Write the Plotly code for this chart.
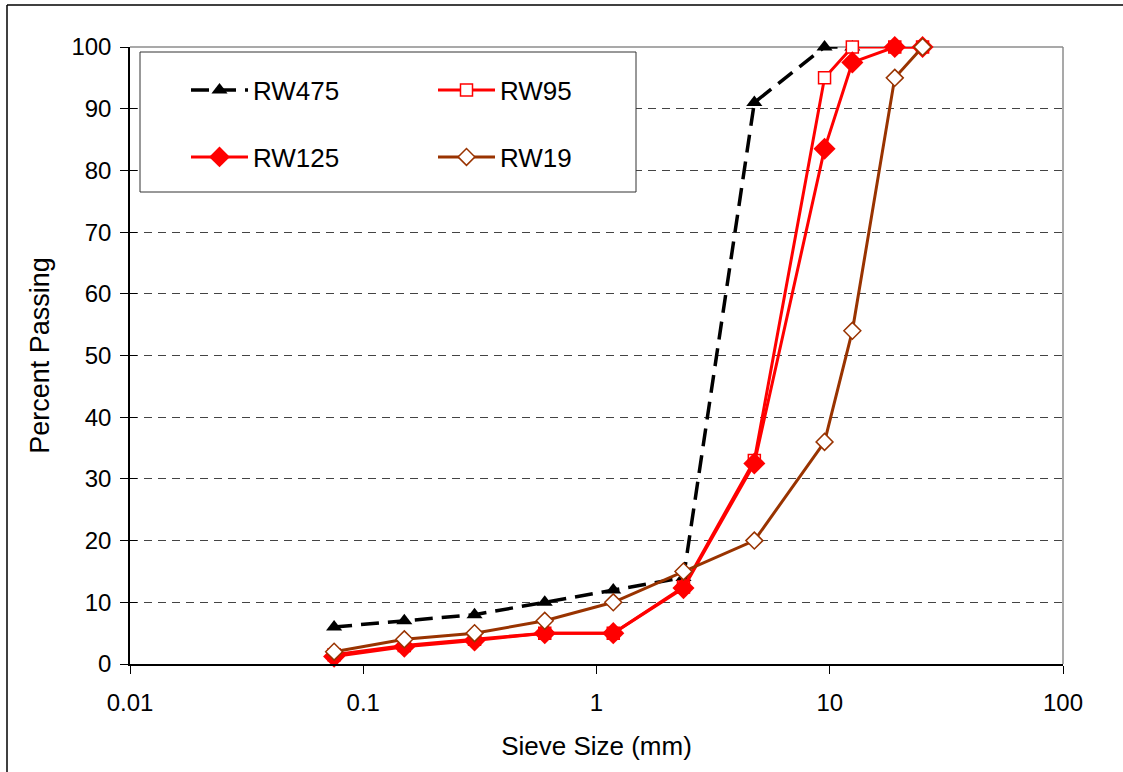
import plotly.graph_objects as go

sieve = [0.075, 0.15, 0.3, 0.6, 1.18, 2.36, 4.75, 9.5, 12.5, 19, 25]
rw475 = [6, 7, 8, 10, 12, 14, 91, 100, 100]
rw95 = [1.5, 3, 4, 5, 5, 12.5, 33, 95, 100, 100, 100]
rw125 = [1.2, 2.8, 3.8, 5, 5, 12.3, 32.5, 83.5, 97.5, 100, 100]
rw19 = [2, 4, 5, 7, 10, 15, 20, 36, 54, 95, 100]
yticks = [0, 10, 20, 30, 40, 50, 60, 70, 80, 90, 100]
xticks = [0.01, 0.1, 1, 10, 100]
xticklabels = ["0.01", "0.1", "1", "10", "100"]

L, R, T, B = 130, 60, 47, 108
W, H = 1123, 772
PW, PH = W - L - R, H - T - B


def px(x):
    return (x - L) / PW


def py(y):
    return (H - B - y) / PH


FONT = "Liberation Sans, Arial, sans-serif"
fig = go.Figure()

fig.add_trace(go.Scatter(
    x=sieve[:len(rw475)], y=rw475, name="RW475", mode="lines+markers",
    line=dict(color="black", width=3.5, dash="18px,9px"),
    marker=dict(symbol="triangle-up", size=14, color="black"),
    cliponaxis=False, legend="legend"))
fig.add_trace(go.Scatter(
    x=sieve, y=rw95, name="RW95", mode="lines+markers",
    line=dict(color="#FF0000", width=3),
    marker=dict(symbol="square", size=12, color="white",
                line=dict(color="#FF0000", width=1.5)),
    cliponaxis=False, legend="legend2"))
fig.add_trace(go.Scatter(
    x=sieve, y=rw125, name="RW125", mode="lines+markers",
    line=dict(color="#FF0000", width=3),
    marker=dict(symbol="diamond", size=17, color="#FF0000"),
    cliponaxis=False, legend="legend3"))
fig.add_trace(go.Scatter(
    x=sieve, y=rw19, name="RW19", mode="lines+markers",
    line=dict(color="#993300", width=3),
    marker=dict(symbol="diamond", size=13, color="white",
                line=dict(color="#993300", width=1.5)),
    cliponaxis=False, legend="legend4"))

# invisible trace for inside y ticks
fig.add_trace(go.Scatter(x=[], y=[], yaxis="y2", showlegend=False))

legfont = dict(family=FONT, size=26, color="black")
common = dict(bgcolor="rgba(0,0,0,0)", borderwidth=0, font=legfont,
              xanchor="left", yanchor="middle", itemwidth=57)
fig.update_layout(
    legend=dict(x=px(186), y=py(90), **common),
    legend2=dict(x=px(433), y=py(90), **common),
    legend3=dict(x=px(186), y=py(157), **common),
    legend4=dict(x=px(433), y=py(157), **common),
)

fig.update_layout(
    width=W, height=H,
    margin=dict(l=L, r=R, t=T, b=B),
    plot_bgcolor="white", paper_bgcolor="white",
    font=dict(family=FONT, size=24, color="black"),
    xaxis=dict(
        type="log", range=[-2, 2], tickvals=xticks, ticktext=xticklabels,
        showgrid=False, zeroline=False,
        showline=True, linecolor="black", linewidth=1.5,
        ticks="outside", ticklen=8, tickcolor="black", tickwidth=1,
        ticklabelstandoff=8,
        tickfont=dict(family=FONT, size=24, color="black"),
        title=dict(text="Sieve Size (mm)", standoff=22,
                   font=dict(family=FONT, size=26, color="black")),
    ),
    yaxis=dict(
        range=[0, 100], tickvals=yticks,
        showgrid=True, gridcolor="#444444", gridwidth=1, griddash="8px,6px",
        zeroline=False,
        showline=True, linecolor="black", linewidth=1.5,
        ticks="outside", ticklen=8, tickcolor="black", tickwidth=1,
        ticklabelstandoff=4,
        tickfont=dict(family=FONT, size=24, color="black"),
        title=dict(text="Percent Passing", standoff=14,
                   font=dict(family=FONT, size=27, color="black")),
    ),
    yaxis2=dict(
        range=[0, 100], tickvals=yticks, overlaying="y", side="left",
        showgrid=False, zeroline=False, showticklabels=False,
        ticks="inside", ticklen=7, tickcolor="black", tickwidth=1,
    ),
    showlegend=True,
)

shapes = [
    # plot top and right borders (gray)
    dict(type="line", xref="paper", yref="paper", x0=0, x1=1, y0=1, y1=1,
         line=dict(color="#8c8c8c", width=1.5), layer="below"),
    dict(type="line", xref="paper", yref="paper", x0=1, x1=1, y0=0, y1=1,
         line=dict(color="#8c8c8c", width=1.5), layer="below"),
    # legend box
    dict(type="rect", xref="paper", yref="paper",
         x0=px(140), x1=px(636), y0=py(192), y1=py(52),
         fillcolor="white", line=dict(color="#333333", width=1), layer="above"),
    # outer frame (top and left)
    dict(type="line", xref="paper", yref="paper",
         x0=px(7), x1=px(W + 5), y0=py(5), y1=py(5),
         line=dict(color="black", width=1.5)),
    dict(type="line", xref="paper", yref="paper",
         x0=px(7), x1=px(7), y0=py(5), y1=py(H + 5),
         line=dict(color="black", width=1.5)),
]
fig.update_layout(shapes=shapes)

fig.write_html(
    "out.html",
    config={"displayModeBar": False},
    post_script="document.body.style.margin='0px';document.body.style.padding='0px';",
)
